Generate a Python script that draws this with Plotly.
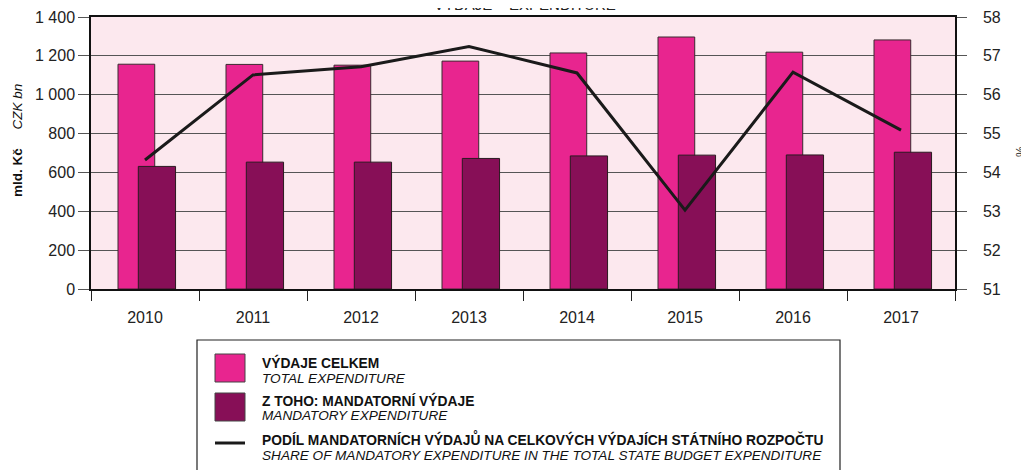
import plotly.graph_objects as go

years = ["2010", "2011", "2012", "2013", "2014", "2015", "2016", "2017"]
total_exp = [1157, 1156, 1152, 1173, 1215, 1297, 1219, 1282]
mandatory_exp = [631, 653, 653, 672, 685, 689, 690, 704]
share_pct = [54.32, 56.51, 56.72, 57.24, 56.56, 53.03, 56.58, 55.09]

left_ticks = [0, 200, 400, 600, 800, 1000, 1200, 1400]
left_ticktext = ["0", "200", "400", "600", "800", "1 000", "1 200", "1 400"]
right_ticks = [51, 52, 53, 54, 55, 56, 57, 58]

names_cz = ["VÝDAJE CELKEM", "Z TOHO: MANDATORNÍ VÝDAJE",
            "PODÍL MANDATORNÍCH VÝDAJŮ NA CELKOVÝCH VÝDAJÍCH STÁTNÍHO ROZPOČTU"]
names_en = ["TOTAL EXPENDITURE", "MANDATORY EXPENDITURE",
            "SHARE OF MANDATORY EXPENDITURE IN THE TOTAL STATE BUDGET EXPENDITURE"]

PINK = "#E8258F"
PLUM = "#870F57"
BG = "#FCE8EE"
FONT = "Liberation Sans, Arial, sans-serif"

OFF = 8
W, H = 1029 - OFF, 470 - OFF
# plot area in screenshot pixels
L, R, T, B = 91, 955, 17, 289


def px(x):
    return (x - L) / (R - L)


def py(y):
    return (B - y) / (B - T)


fig = go.Figure()
fig.add_trace(go.Bar(x=years, y=total_exp, name=names_en[0],
                     marker=dict(color=PINK, line=dict(color="#3a2a30", width=1)),
                     width=0.34, offset=-0.25, showlegend=False))
fig.add_trace(go.Bar(x=years, y=mandatory_exp, name=names_en[1],
                     marker=dict(color=PLUM, line=dict(color="#2a1a20", width=1)),
                     width=0.345, offset=-0.062, showlegend=False))
fig.add_trace(go.Scatter(x=years, y=share_pct, name=names_en[2], yaxis="y2", mode="lines",
                         line=dict(color="#1a1a1a", width=3), showlegend=False))

shapes = []
annotations = []

# legend box
shapes.append(dict(type="rect", xref="paper", yref="paper", x0=px(197), x1=px(840), y0=py(480), y1=py(340),
                   line=dict(color="#222", width=1.2), fillcolor="white", layer="above"))
# swatches
shapes.append(dict(type="rect", xref="paper", yref="paper", x0=px(215), x1=px(245), y0=py(382), y1=py(354),
                   line=dict(color="#444", width=1), fillcolor=PINK))
shapes.append(dict(type="rect", xref="paper", yref="paper", x0=px(215), x1=px(245), y0=py(421), y1=py(393),
                   line=dict(color="#444", width=1), fillcolor=PLUM))
shapes.append(dict(type="line", xref="paper", yref="paper", x0=px(215), x1=px(245), y0=py(443), y1=py(443),
                   line=dict(color="#1a1a1a", width=3)))

legend_rows = [(362, 378), (400, 415), (439, 455)]
for (ycz, yen), cz, en in zip(legend_rows, names_cz, names_en):
    annotations.append(dict(xref="paper", yref="paper", x=px(260), y=py(ycz), xanchor="left", yanchor="middle",
                            text="<b>" + cz + "</b>", showarrow=False,
                            font=dict(family=FONT, size=13.8, color="#111")))
    annotations.append(dict(xref="paper", yref="paper", x=px(260), y=py(yen), xanchor="left", yanchor="middle",
                            text="<i>" + en + "</i>", showarrow=False,
                            font=dict(family=FONT, size=13.6, color="#111")))

# axis titles
annotations.append(dict(xref="paper", yref="paper", x=px(17), y=py(141), xanchor="center", yanchor="middle",
                        textangle=-90, showarrow=False,
                        text="<b>mld. Kč</b>     <i>CZK bn</i>",
                        font=dict(family=FONT, size=13.5, color="#111")))
annotations.append(dict(xref="paper", yref="paper", x=px(1021), y=py(152), xanchor="center", yanchor="middle",
                        textangle=-90, showarrow=False, text="%",
                        font=dict(family=FONT, size=12, color="#333")))
# title (cut off at the top edge, as in the original)
annotations.append(dict(xref="paper", yref="paper", x=px(525), y=py(15), xanchor="center", yanchor="bottom",
                        showarrow=False, text="VÝDAJE – EXPENDITURE",
                        font=dict(family=FONT, size=15, color="#222")))

fig.update_layout(
    width=W, height=H,
    margin=dict(l=L - OFF, r=W - (R - OFF), t=T - OFF, b=H - (B - OFF), pad=0, autoexpand=False),
    paper_bgcolor="white", plot_bgcolor=BG,
    barmode="overlay",
    font=dict(family=FONT, size=16, color="#222"),
    xaxis=dict(type="category", showgrid=False, showline=True, linecolor="#111", linewidth=1.5, mirror=True,
               ticks="outside", tickson="boundaries", ticklen=10, tickcolor="#222", tickwidth=1,
               ticklabelstandoff=13,
               tickfont=dict(size=16, color="#222"), zeroline=False, automargin=False),
    yaxis=dict(range=[0, 1400], tickvals=left_ticks, ticktext=left_ticktext, showgrid=True,
               gridcolor="#555", gridwidth=1, showline=True, linecolor="#111", linewidth=1.5,
               ticks="outside", ticklen=11, tickcolor="#555", tickfont=dict(size=16, color="#222"),
               zeroline=False, automargin=False),
    yaxis2=dict(range=[51, 58], tickvals=right_ticks, overlaying="y", side="right", showgrid=False,
                showline=True, linecolor="#111", linewidth=1.5, ticks="outside", ticklen=10, tickcolor="#555",
                ticklabelstandoff=13,
                tickfont=dict(size=16, color="#222"), zeroline=False, automargin=False),
    shapes=shapes, annotations=annotations,
    showlegend=False,
)

fig.write_html("out.html")
